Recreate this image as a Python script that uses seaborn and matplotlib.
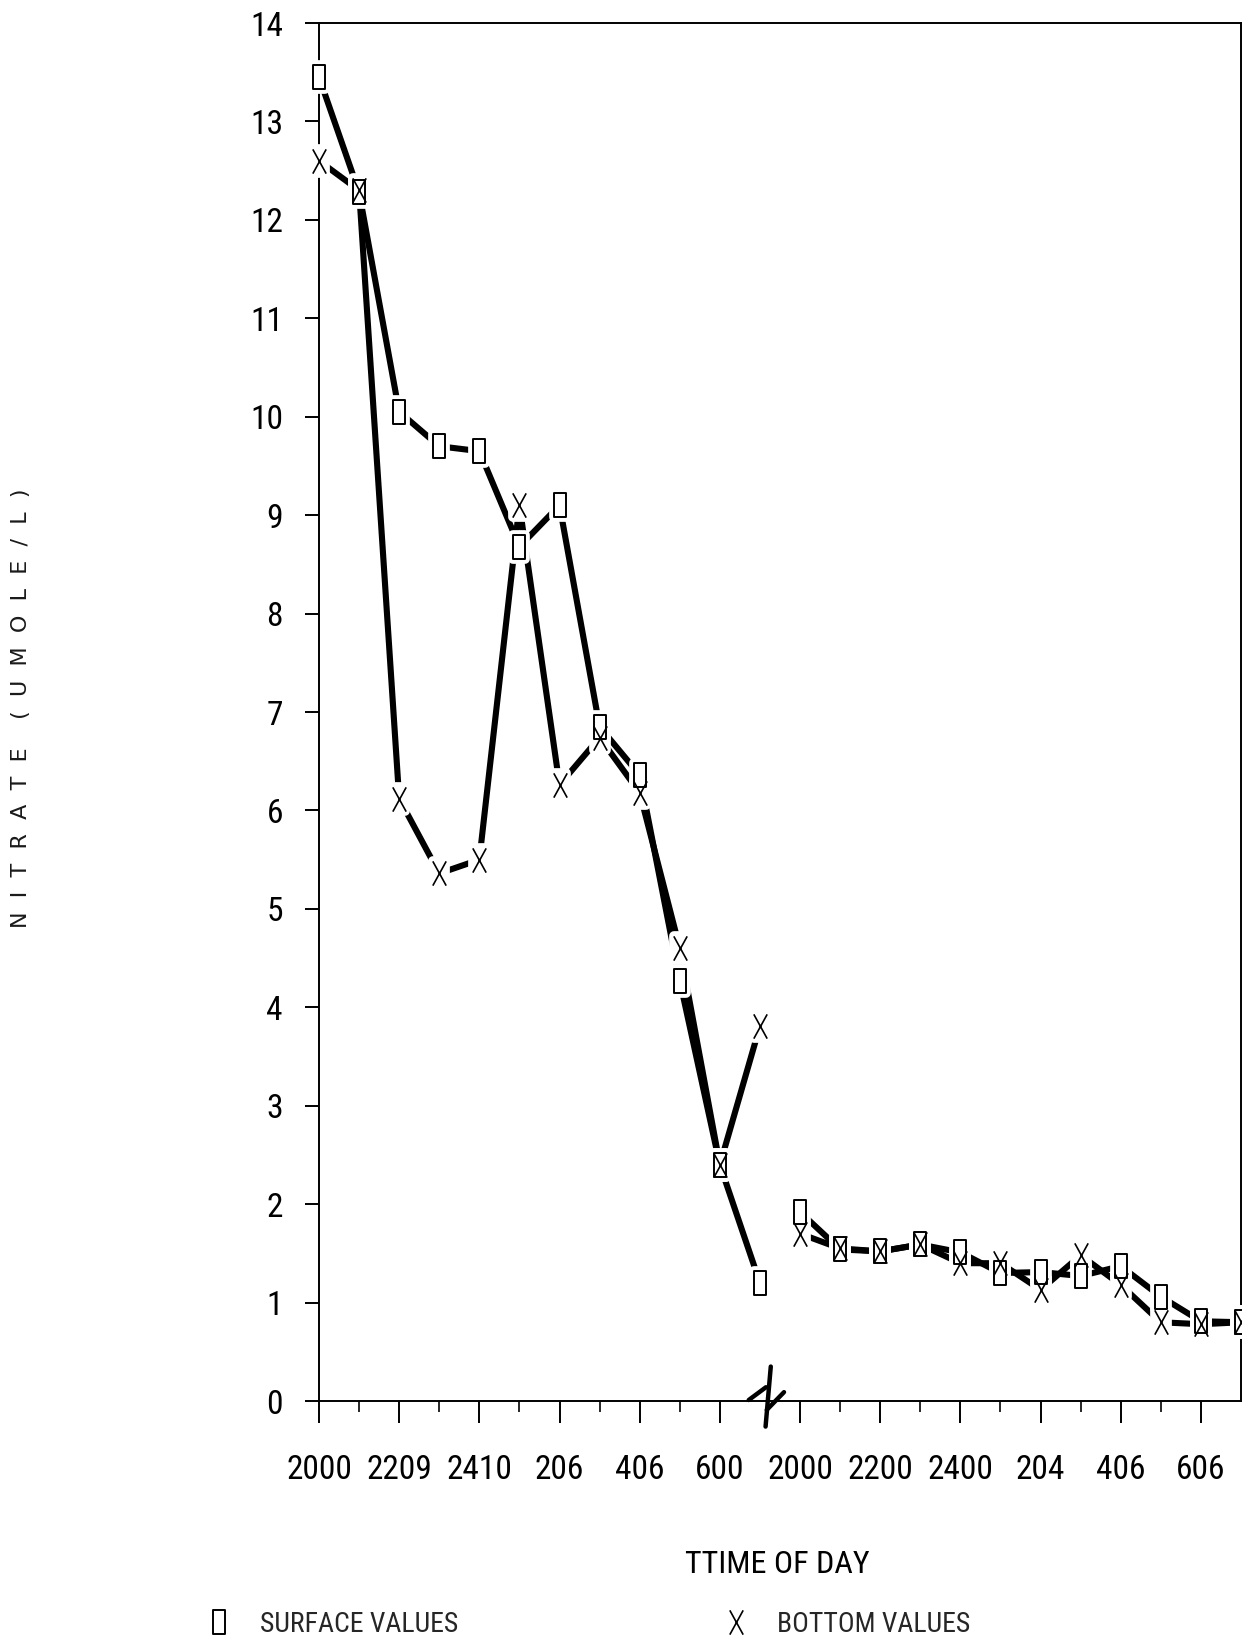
import matplotlib
matplotlib.use("Agg")
import matplotlib.pyplot as plt
from matplotlib import font_manager as fm
from matplotlib.path import Path
from matplotlib.lines import Line2D
import pandas as pd
import seaborn as sns

# ---- data: nitrate at surface and bottom over two overnight runs ----
slot_run1 = list(range(0, 12))
slot_run2 = list(range(12, 24))

surface_run1 = [13.45, 12.28, 10.05, 9.70, 9.65, 8.68, 9.10, 6.85, 6.36, 4.27, 2.40, 1.20]
bottom_run1 = [12.60, 12.30, 6.12, 5.36, 5.50, 9.10, 6.26, 6.74, 6.18, 4.60, 2.40, 3.81]
surface_run2 = [1.92, 1.54, 1.52, 1.59, 1.51, 1.30, 1.31, 1.27, 1.37, 1.06, 0.81, 0.80]
bottom_run2 = [1.70, 1.55, 1.52, 1.59, 1.40, 1.40, 1.13, 1.48, 1.18, 0.80, 0.78, 0.80]

tick_slots = [0, 2, 4, 6, 8, 10, 12, 14, 16, 18, 20, 22]
tick_labels = ["2000", "2209", "2410", "206", "406", "600",
               "2000", "2200", "2400", "204", "406", "606"]
minor_slots = [1, 3, 5, 7, 9, 13, 15, 17, 19, 21]

frames = []
for run, slots, surf, bot in [(1, slot_run1, surface_run1, bottom_run1),
                              (2, slot_run2, surface_run2, bottom_run2)]:
    frames.append(pd.DataFrame({"slot": slots, "nitrate": surf,
                                "depth": "surface", "run": run}))
    frames.append(pd.DataFrame({"slot": slots, "nitrate": bot,
                                "depth": "bottom", "run": run}))
df = pd.concat(frames, ignore_index=True)

# ---- style ----
sns.set_style("ticks")
plt.rcParams["font.family"] = ["Liberation Sans", "DejaVu Sans"]
plt.rcParams["axes.edgecolor"] = "black"


def find_narrow_font():
    """Return the path of an installed narrow/condensed sans face, if any."""
    wanted = ["Liberation Sans Narrow", "DejaVu Sans Condensed",
              "Roboto Condensed", "Open Sans Condensed", "Noto Sans Condensed"]
    entries = fm.fontManager.ttflist

    def regular(f):
        w = f.weight
        w_ok = (w in (400, "normal", "regular", "book")) or (isinstance(w, int) and 350 <= w <= 450)
        return w_ok and f.style == "normal"

    for name in wanted:
        for f in entries:
            if f.name == name and regular(f):
                return f.fname
    for f in entries:
        if (str(f.stretch) in ("condensed", "semi-condensed", "extra-condensed")
                and regular(f) and "Mono" not in f.name and "Serif" not in f.name):
            return f.fname
    return None


narrow_path = find_narrow_font()


def label_font(size_narrow, size_plain):
    if narrow_path:
        return fm.FontProperties(fname=narrow_path, size=size_narrow)
    return fm.FontProperties(family=["Liberation Sans", "DejaVu Sans"], size=size_plain)


tick_fp = label_font(24, 18)
title_fp = label_font(23, 19)
legend_fp = label_font(20, 17)

# tall open rectangle for surface samples, tall thin cross for bottom samples
box_marker = Path([(-0.5, -1), (0.5, -1), (0.5, 1), (-0.5, 1), (-0.5, -1)],
                  [Path.MOVETO, Path.LINETO, Path.LINETO, Path.LINETO, Path.CLOSEPOLY])
cross_marker = Path([(-0.55, -1), (0.55, 1), (-0.55, 1), (0.55, -1)],
                    [Path.MOVETO, Path.LINETO, Path.MOVETO, Path.LINETO])

fig = plt.figure(figsize=(12.42, 16.46), dpi=100)
ax = fig.add_axes([319 / 1242, 1 - 1401 / 1646, 922 / 1242, 1378 / 1646])

# connecting lines, one segment per run so the break is left open
for (depth, run), grp in df.groupby(["depth", "run"]):
    sns.lineplot(data=grp, x="slot", y="nitrate", ax=ax, color="black",
                 lw=4.4, solid_capstyle="round", estimator=None, sort=True,
                 legend=False, zorder=2)

MS = 17.5
# white halos leave small gaps where lines meet the symbols
for depth in ["surface", "bottom"]:
    d = df[df["depth"] == depth]
    ax.plot(d["slot"], d["nitrate"], ls="none", marker=box_marker, ms=MS,
            mfc="white", mec="white", mew=7, zorder=3, clip_on=False)

surf = df[df["depth"] == "surface"]
bot = df[df["depth"] == "bottom"]
ax.plot(surf["slot"], surf["nitrate"], ls="none", marker=box_marker, ms=MS,
        mfc="white", mec="black", mew=1.4, zorder=4, clip_on=False)
ax.plot(bot["slot"], bot["nitrate"], ls="none", marker=cross_marker, ms=MS,
        mfc="none", mec="black", mew=1.2, zorder=5, clip_on=False)

# axis break symbol between the two runs
brk = dict(color="black", lw=3.2, solid_capstyle="round", clip_on=False, zorder=6)
ax.plot([10.72, 11.15], [0.01, 0.14], **brk)
ax.plot([11.27, 11.14], [0.35, -0.26], **brk)
ax.plot([11.17, 11.60], [-0.09, 0.09], **brk)

# ---- axes ----
ax.set_xlim(0, 23)
ax.set_ylim(0, 14)
ax.set_xticks(tick_slots)
ax.set_xticklabels(tick_labels)
ax.set_xticks(minor_slots, minor=True)
ax.set_yticks(range(0, 15))
ax.set_yticklabels([str(v) for v in range(0, 15)])

ax.tick_params(axis="x", which="major", direction="out", length=16, width=1.4,
               pad=22, colors="black")
ax.tick_params(axis="x", which="minor", direction="out", length=8, width=1.4)
ax.tick_params(axis="y", which="major", direction="out", length=10, width=1.4,
               pad=16, colors="black")
for lbl in ax.get_xticklabels() + ax.get_yticklabels():
    lbl.set_fontproperties(tick_fp)

for side in ["left", "bottom", "top", "right"]:
    ax.spines[side].set_visible(True)
    ax.spines[side].set_linewidth(1.4)
    ax.spines[side].set_color("black")

ax.set_xlabel("TTIME OF DAY", fontproperties=title_fp, color="black")
ax.xaxis.set_label_coords(0.497, -0.119)
ax.xaxis.label.set_va("center")

ax.set_ylabel("N  I  T  R  A  T  E    (  U  M  O  L  E  /  L  )",
              fontsize=16, family=["DejaVu Sans"], color="#1a1a1a")
ax.yaxis.set_label_coords(-0.323, 0.503)
ax.yaxis.label.set_va("center")

# ---- legend along the bottom ----
y_leg = 1 - 1624 / 1646
h_surface = Line2D([], [], ls="none", marker=box_marker, ms=MS,
                   mfc="white", mec="black", mew=1.4)
h_bottom = Line2D([], [], ls="none", marker=cross_marker, ms=MS,
                  mfc="none", mec="black", mew=1.2)
leg_kw = dict(frameon=False, loc="center left", handlelength=1.2,
              handletextpad=0.9, borderpad=0, borderaxespad=0, prop=legend_fp)
fig.legend([h_surface], ["SURFACE VALUES"],
           bbox_to_anchor=(202 / 1242, y_leg), **leg_kw)
fig.legend([h_bottom], ["BOTTOM VALUES"],
           bbox_to_anchor=(719 / 1242, y_leg), **leg_kw)

fig.savefig("out.png", dpi=100, facecolor="white")
